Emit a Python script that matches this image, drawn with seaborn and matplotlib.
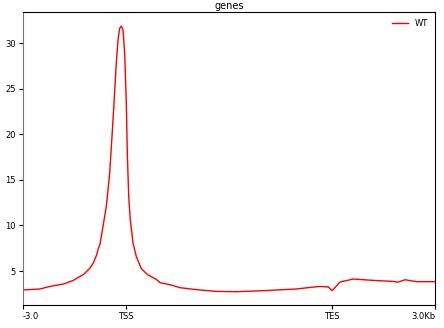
import matplotlib
matplotlib.use("Agg")
import matplotlib.pyplot as plt
import seaborn as sns
import pandas as pd

# bin positions (10 bp bins: 300 upstream, 600 body, 300 downstream)
pos = [0, 49.5, 78.6, 117.4, 146.5, 166, 175.6, 195.1, 204.8, 214.7, 218.4, 224.3,
       233, 242.6, 252.5, 259.2, 265.1, 271.7, 276.7, 281.6, 286.3, 291.3, 296.2,
       300.9, 303.8, 307.9, 312.5, 320.4, 330, 344.6, 363.2, 389.4, 399, 428.2,
       457.3, 505.9, 564.2, 622.4, 699.9, 797.2, 835.9, 865, 889.2, 900.9, 913.7,
       923.3, 962, 1020.3, 1078.5, 1092, 1112.6, 1146.7, 1200]
wt = [2.92, 3.03, 3.31, 3.57, 3.97, 4.41, 4.59, 5.33, 5.88, 6.79, 7.34, 7.95,
      9.89, 12.08, 15.75, 19.76, 23.42, 27.81, 30.36, 31.64, 31.9, 31.46, 28.9,
      23.42, 17.94, 13.18, 10.63, 8.07, 6.6, 5.25, 4.6, 4.05, 3.72, 3.5,
      3.17, 2.95, 2.76, 2.73, 2.84, 3.03, 3.2, 3.31, 3.25, 2.84, 3.39,
      3.79, 4.12, 3.97, 3.86, 3.77, 4.04, 3.83, 3.83]

tick_pos = [0, 300, 900, 1200]
tick_labels = ["-3.0", "TSS", "TES", "3.0Kb"]
y_ticks = [5, 10, 15, 20, 25, 30]

df = pd.DataFrame({"pos": pos, "value": wt, "sample": "WT"})

fig = plt.figure(figsize=(4.44, 3.28), dpi=100)
ax = fig.add_axes([23/444, 1-305/328, (435-23)/444, (305-12)/328])
sns.lineplot(data=df, x="pos", y="value", hue="sample", palette=["red"],
             linewidth=1.0, ax=ax)
ax.set_xlim(0, 1200)
ax.set_ylim(1.27, 33.43)
ax.set_xticks(tick_pos)
ax.set_xticklabels(tick_labels, fontsize=6)
labs = ax.get_xticklabels()
labs[0].set_ha("left")
labs[-1].set_ha("right")
ax.set_yticks(y_ticks)
ax.set_yticklabels([str(v) for v in y_ticks], fontsize=6)
ax.tick_params(length=3, width=0.8, pad=2)
ax.set_xlabel("")
ax.set_ylabel("")
ax.set_title("genes", fontsize=7, pad=2)
for s in ax.spines.values():
    s.set_linewidth(0.8)
ax.spines["left"].set_color("#777777")
leg = ax.legend(loc="upper right", frameon=False, fontsize=6, handlelength=2.0,
                borderaxespad=0.4)
fig.savefig("out.png", dpi=100)
